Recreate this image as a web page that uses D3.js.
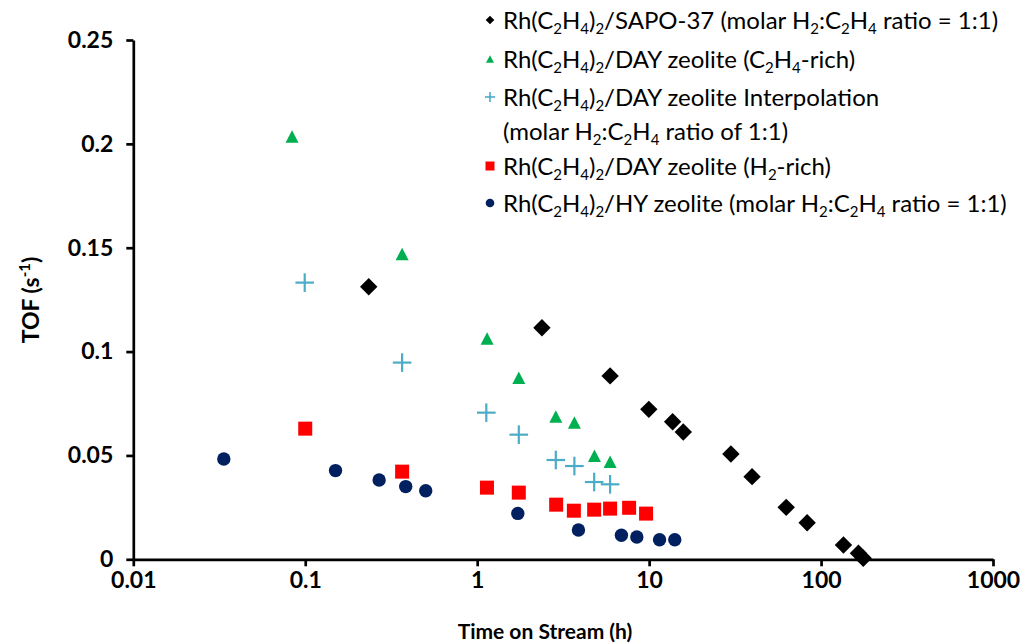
<!DOCTYPE html>
<html>
<head>
<meta charset="utf-8">
<script src="https://cdn.jsdelivr.net/npm/d3@7"></script>
<style>
  html, body { margin: 0; padding: 0; background: #fff; }
  svg { display: block; }
  text { font-family: Lato, "Open Sans", sans-serif; }
</style>
</head>
<body>
<div id="chart"></div>
<script>
// ---------------- data ----------------
const sapoTime = [0.234, 2.38, 5.93, 9.96, 13.7, 15.8, 29.9, 39.7, 62.7, 83.0, 135, 165, 176];
const sapoTOF  = [0.1312, 0.1115, 0.0883, 0.0722, 0.0662, 0.0613, 0.0507, 0.0398, 0.0250, 0.0176, 0.0069, 0.0029, 0.0005];

const c2h4RichTime = [0.0838, 0.366, 1.142, 1.746, 2.866, 3.676, 4.81, 5.93];
const c2h4RichTOF  = [0.2035, 0.147, 0.1063, 0.0874, 0.0687, 0.0658, 0.0499, 0.0470];

const interpTime = [0.0993, 0.366, 1.13, 1.746, 2.866, 3.676, 4.79, 5.93];
const interpTOF  = [0.1332, 0.0947, 0.0706, 0.0600, 0.0478, 0.0449, 0.0372, 0.0361];

const h2RichTime = [0.100, 0.366, 1.14, 1.746, 2.88, 3.65, 4.79, 5.93, 7.65, 9.6];
const h2RichTOF  = [0.0629, 0.0422, 0.0345, 0.0321, 0.0263, 0.0234, 0.0239, 0.0244, 0.0248, 0.0220];

const hyTime = [0.0336, 0.150, 0.269, 0.384, 0.502, 1.723, 3.88, 6.90, 8.48, 11.5, 14.1];
const hyTOF  = [0.0483, 0.0427, 0.0382, 0.0350, 0.0330, 0.0221, 0.0141, 0.0116, 0.0107, 0.0094, 0.0094];

const xTicks = [0.01, 0.1, 1, 10, 100, 1000];
const xTickLabels = ["0.01", "0.1", "1", "10", "100", "1000"];
const yTicks = [0, 0.05, 0.1, 0.15, 0.2, 0.25];
const yTickLabels = ["0", "0.05", "0.1", "0.15", "0.2", "0.25"];

const legendLabels = [
  "Rh(C_2H_4)_2/SAPO-37 (molar H_2:C_2H_4 ratio = 1:1)",
  "Rh(C_2H_4)_2/DAY zeolite (C_2H_4-rich)",
  "Rh(C_2H_4)_2/DAY zeolite Interpolation",
  "(molar H_2:C_2H_4 ratio of 1:1)",
  "Rh(C_2H_4)_2/DAY zeolite (H_2-rich)",
  "Rh(C_2H_4)_2/HY zeolite (molar H_2:C_2H_4 ratio = 1:1)"
];

// ---------------- layout ----------------
const W = 1021, H = 644;
const svg = d3.select("#chart").append("svg").attr("width", W).attr("height", H);

const x = d3.scaleLog().domain([0.01, 1000]).range([133.3, 993]);
const y = d3.scaleLinear().domain([0, 0.25]).range([559.3, 40]);

// axes
const yAxis = d3.axisLeft(y).tickValues(yTicks)
  .tickFormat((d, i) => yTickLabels[i]).tickSize(7).tickSizeOuter(0).tickPadding(13);
const xAxis = d3.axisBottom(x).tickValues(xTicks)
  .tickFormat((d, i) => xTickLabels[i]).tickSize(7).tickSizeOuter(0).tickPadding(5);

const gy = svg.append("g").attr("transform", `translate(${x.range()[0]},0)`).call(yAxis);
const gx = svg.append("g").attr("transform", `translate(0,${y.range()[0]})`).call(xAxis);
[gx, gy].forEach(g => {
  g.selectAll("path.domain").attr("stroke", "#000").attr("stroke-width", 2.7);
  g.selectAll(".tick line").attr("stroke", "#000").attr("stroke-width", 2.7);
  g.selectAll(".tick text").attr("fill", "#000")
    .style("font-family", "Lato, sans-serif").style("font-weight", "bold").style("font-size", "23px");
});

// axis titles
const yt = svg.append("text")
  .attr("transform", "translate(39,300) rotate(-90)")
  .attr("text-anchor", "middle")
  .style("font-weight", "bold").style("font-size", "23px").attr("fill", "#000");
yt.append("tspan").text("TOF (s");
yt.append("tspan").text("-1").style("font-size", "15px").attr("dy", -9);
yt.append("tspan").text(")").attr("dy", 9);

svg.append("text").attr("x", 545).attr("y", 639).attr("text-anchor", "middle")
  .style("font-weight", "bold").style("font-size", "21px").attr("fill", "#000")
  .text("Time on Stream (h)");

// ---------------- markers ----------------
const plot = svg.append("g");
function diamondPath(r) { return `M0,${-r}L${r},0L0,${r}L${-r},0Z`; }
function trianglePath(w, h) { return `M0,${-h/2}L${w/2},${h/2}L${-w/2},${h/2}Z`; }

function pairs(xs, ys) { return xs.map((t, i) => [t, ys[i]]); }

// HY circles
plot.selectAll("circle.hy").data(pairs(hyTime, hyTOF)).join("circle")
  .attr("cx", d => x(d[0])).attr("cy", d => y(d[1])).attr("r", 6.7).attr("fill", "#002060");

// H2-rich squares
plot.selectAll("rect.h2").data(pairs(h2RichTime, h2RichTOF)).join("rect")
  .attr("x", d => x(d[0]) - 7).attr("y", d => y(d[1]) - 7)
  .attr("width", 14).attr("height", 14).attr("fill", "#FF0000");

// interpolation plus
const plusG = plot.selectAll("g.plus").data(pairs(interpTime, interpTOF)).join("g")
  .attr("transform", d => `translate(${x(d[0])},${y(d[1])})`);
plusG.append("line").attr("x1", -9.3).attr("x2", 9.3).attr("y1", 0).attr("y2", 0)
  .attr("stroke", "#4BACC6").attr("stroke-width", 2.2);
plusG.append("line").attr("y1", -9.3).attr("y2", 9.3).attr("x1", 0).attr("x2", 0)
  .attr("stroke", "#4BACC6").attr("stroke-width", 2.2);

// C2H4-rich triangles
plot.selectAll("path.tri").data(pairs(c2h4RichTime, c2h4RichTOF)).join("path")
  .attr("d", trianglePath(13, 12.5))
  .attr("transform", d => `translate(${x(d[0])},${y(d[1])})`).attr("fill", "#00B050");

// SAPO-37 diamonds
plot.selectAll("path.dia").data(pairs(sapoTime, sapoTOF)).join("path")
  .attr("d", diamondPath(8.7))
  .attr("transform", d => `translate(${x(d[0])},${y(d[1])})`).attr("fill", "#000");

// ---------------- legend ----------------
const legend = svg.append("g");
const rowY = [20, 59, 97, 131, 166, 203];
const legendText = legend.selectAll("text").data(legendLabels).join("text")
  .attr("x", 503).attr("y", (d, i) => rowY[i] + 8.5)
  .style("font-size", "24px").attr("fill", "#000");
legendText.each(function(label) {
  const t = d3.select(this);
  const parts = label.split(/_(\d)/);
  let shifted = false;
  parts.forEach((p, k) => {
    if (p === "") return;
    const isSub = k % 2 === 1;
    const ts = t.append("tspan").text(p);
    if (isSub) { ts.style("font-size", "15px").attr("dy", 5.5); shifted = true; }
    else if (shifted) { ts.attr("dy", -5.5); shifted = false; }
  });
});

const lx = 490;
legend.append("path").attr("d", diamondPath(4.3)).attr("transform", `translate(${lx},${rowY[0]})`).attr("fill", "#000");
legend.append("path").attr("d", trianglePath(8, 7.5)).attr("transform", `translate(${lx},${rowY[1]})`).attr("fill", "#00B050");
legend.append("line").attr("x1", lx - 5).attr("x2", lx + 5).attr("y1", rowY[2]).attr("y2", rowY[2]).attr("stroke", "#4BACC6").attr("stroke-width", 1.6);
legend.append("line").attr("x1", lx).attr("x2", lx).attr("y1", rowY[2] - 5).attr("y2", rowY[2] + 5).attr("stroke", "#4BACC6").attr("stroke-width", 1.6);
legend.append("rect").attr("x", lx - 4.5).attr("y", rowY[4] - 4.5).attr("width", 9).attr("height", 9).attr("fill", "#FF0000");
legend.append("circle").attr("cx", lx).attr("cy", rowY[5]).attr("r", 4.3).attr("fill", "#002060");
</script>
</body>
</html>
